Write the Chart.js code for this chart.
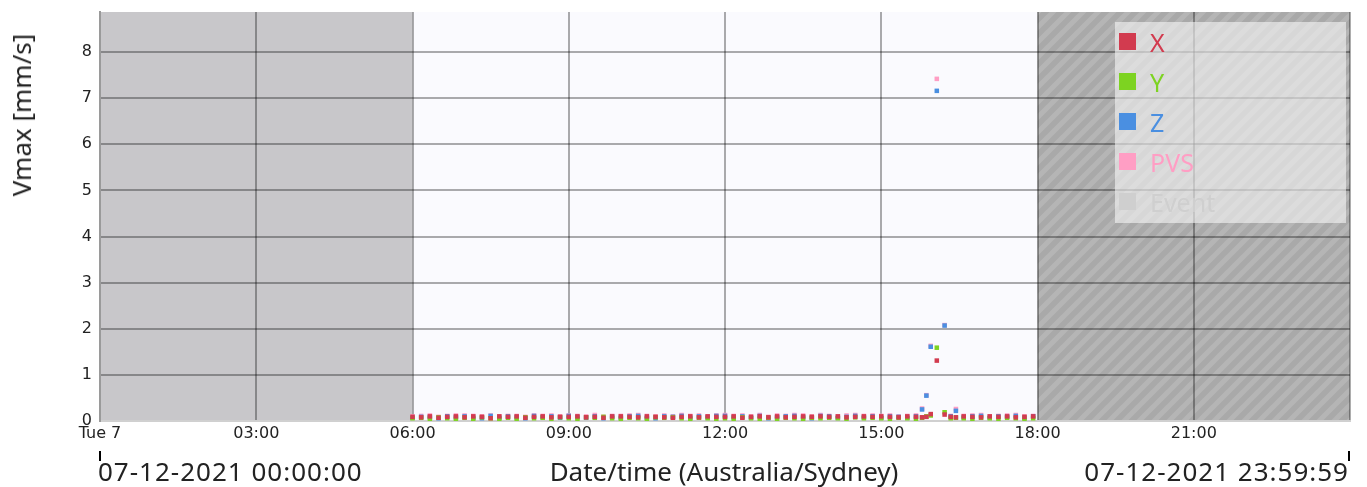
<!DOCTYPE html>
<html lang="en">
<head>
<meta charset="UTF-8">
<title>Vmax [mm/s]</title>
<script src="https://cdn.jsdelivr.net/npm/chart.js"></script>
<style>
  html, body { margin: 0; padding: 0; background: #fff; }
  #wrap { position: relative; width: 1367px; height: 487px; overflow: hidden; font-family: "Noto Sans", sans-serif; color: #222; }
  #wrap canvas { position: absolute; left: 0; top: 0; }
  .ytitle { position: absolute; left: 21px; top: 115px; transform: translate(-50%, -50%) rotate(-90deg); font-size: 26px; line-height: 1; white-space: nowrap; }
  .foot { position: absolute; top: 456px; font-size: 26px; line-height: 30px; white-space: nowrap; }
  .stamp { letter-spacing: 1px; }
  .mark { position: absolute; width: 2px; height: 10px; background: #000; top: 451px; }
  .legend { position: absolute; left: 1115px; top: 22px; width: 231px; height: 201px; background: rgba(247, 247, 247, 0.6); }
  .legend div { position: absolute; left: 35px; font-size: 25px; line-height: 30px; white-space: nowrap; }
  .legend span { position: absolute; left: -31px; top: 6px; width: 17px; height: 17px; }
</style>
</head>
<body>
<div id="wrap">
    <canvas id="vmaxChart" width="1367" height="487"></canvas>
    <div class="ytitle">Vmax [mm/s]</div>
    <div class="legend" id="legend"></div>
    <div class="mark" style="left:99px"></div>
    <div class="mark" style="left:1348px"></div>
    <div class="foot stamp" style="left:98px">07-12-2021 00:00:00</div>
    <div class="foot" style="left:724px; transform:translateX(-50%)">Date/time (Australia/Sydney)</div>
    <div class="foot stamp" style="right:18px">07-12-2021 23:59:59</div>
</div>

<script>
// sample times (local), one value per series at each time
const times = [
    '06:00','06:10','06:20','06:30','06:40','06:50',
    '07:00','07:10','07:20','07:30','07:40','07:50',
    '08:00','08:10','08:20','08:30','08:40','08:50',
    '09:00','09:10','09:20','09:30','09:40','09:50',
    '10:00','10:10','10:20','10:30','10:40','10:50',
    '11:00','11:10','11:20','11:30','11:40','11:50',
    '12:00','12:10','12:20','12:30','12:40','12:50',
    '13:00','13:10','13:20','13:30','13:40','13:50',
    '14:00','14:10','14:20','14:30','14:40','14:50',
    '15:00','15:10','15:20','15:30','15:40',
    '15:47','15:52','15:57','16:04','16:13','16:20','16:26',
    '16:35','16:45','16:55','17:05','17:15','17:25','17:35','17:45','17:55'
];

const xVals = [
    .09,.08,.10,.07,.09,.10,  .08,.10,.09,.06,.10,.09,  .10,.07,.09,.10,.08,.09,
    .09,.10,.08,.09,.07,.10,  .10,.09,.08,.10,.09,.08,  .07,.09,.10,.08,.10,.09,
    .09,.10,.07,.09,.10,.08,  .10,.08,.09,.10,.09,.10,  .09,.10,.08,.09,.10,.09,
    .10,.09,.08,.10,.09,
    .08,.09,.15,1.31,.14,.09,.08,
    .10,.09,.08,.10,.09,.10,.08,.09,.10
];
const yVals = [
    .06,.07,.05,.08,.06,.05,  .07,.05,.08,.06,.05,.07,  .05,.08,.06,.07,.05,.08,
    .06,.05,.08,.07,.09,.06,  .05,.07,.06,.05,.08,.07,  .08,.06,.05,.07,.06,.05,
    .06,.05,.08,.06,.05,.07,  .05,.07,.06,.05,.07,.06,  .07,.06,.05,.08,.06,.07,
    .06,.05,.07,.06,.05,
    .07,.10,.12,1.59,.19,.06,.07,
    .06,.05,.07,.06,.05,.07,.06,.05,.06
];
const zVals = [
    .07,.09,.08,.06,.10,.08,  .10,.07,.06,.11,.07,.10,  .08,.06,.11,.08,.10,.07,
    .11,.08,.07,.10,.06,.09,  .07,.10,.11,.07,.06,.10,  .09,.11,.07,.10,.08,.11,
    .11,.08,.10,.07,.11,.06,  .08,.10,.11,.08,.06,.11,  .10,.07,.09,.11,.08,.10,
    .07,.10,.09,.07,.10,
    .25,.55,1.61,7.16,2.07,.10,.22,
    .08,.10,.11,.07,.10,.09,.11,.07,.10
];
const pvsVals = [
    .10,.11,.12,.09,.11,.12,  .12,.11,.10,.12,.10,.11,  .11,.09,.12,.11,.12,.10,
    .12,.11,.10,.13,.09,.11,  .11,.12,.13,.11,.10,.12,  .10,.13,.11,.12,.10,.12,
    .13,.11,.12,.10,.13,.09,  .12,.11,.13,.12,.10,.13,  .11,.10,.12,.13,.11,.12,
    .11,.12,.10,.11,.12,
    .27,.56,1.63,7.42,2.08,.11,.26,
    .11,.12,.13,.10,.11,.12,.13,.10,.11
];

const seriesNames = ['X', 'Y', 'Z', 'PVS', 'Event'];
const seriesColors = ['#d23b4f', '#7dd321', '#4a8fe1', '#ff9ec4', '#cfcfcf'];

// x axis in minutes after midnight
const xTickValues = [0, 180, 360, 540, 720, 900, 1080, 1260, 1440];
const xTickLabels = ['Tue 7', '03:00', '06:00', '09:00', '12:00', '15:00', '18:00', '21:00', ''];
const yTickValues = [0, 1, 2, 3, 4, 5, 6, 7, 8];
const yMax = 8.87;

// shaded periods (minutes): before monitoring, monitored, not yet recorded
const nightRange = [0, 360];
const dayRange = [360, 1080];
const futureRange = [1080, 1440];

const toMinutes = t => {
    const [h, m] = t.split(':');
    return parseInt(h, 10) * 60 + parseInt(m, 10);
};
const points = vals => times.map((t, i) => ({ x: toMinutes(t), y: vals[i] }));

// legend
const legendEl = document.getElementById('legend');
seriesNames.forEach((name, i) => {
    const row = document.createElement('div');
    row.style.top = (5 + i * 40) + 'px';
    row.style.color = seriesColors[i];
    row.innerHTML = '<span style="background:' + seriesColors[i] + '"></span>' + name;
    legendEl.appendChild(row);
});

function hatchPattern(ctx) {
    const c = document.createElement('canvas');
    c.width = 15; c.height = 15;
    const g = c.getContext('2d');
    g.fillStyle = '#a9a9a9';
    g.fillRect(0, 0, 15, 15);
    g.strokeStyle = '#b5b5b5';
    g.lineWidth = 5;
    g.beginPath();
    g.moveTo(-5, 20); g.lineTo(20, -5);
    g.moveTo(-5, 5); g.lineTo(5, -5);
    g.moveTo(10, 20); g.lineTo(20, 10);
    g.stroke();
    return ctx.createPattern(c, 'repeat');
}

const zones = {
    id: 'zones',
    beforeDraw(chart) {
        const { ctx, chartArea: a, scales: { x } } = chart;
        const band = (r, fill) => {
            const x0 = x.getPixelForValue(r[0]);
            const x1 = x.getPixelForValue(r[1]);
            ctx.fillStyle = fill;
            ctx.fillRect(x0, a.top, x1 - x0, a.bottom - a.top);
        };
        ctx.save();
        band(nightRange, '#c8c7ca');
        band(dayRange, '#fafafe');
        band(futureRange, hatchPattern(ctx));
        ctx.restore();
    }
};

const tickFont = { family: 'DejaVu Sans', size: 16 };
const gridColor = 'rgba(0, 0, 0, 0.32)';

new Chart(document.getElementById('vmaxChart'), {
    type: 'scatter',
    data: {
        datasets: [xVals, yVals, zVals, pvsVals].map((vals, i) => ({
            label: seriesNames[i],
            data: points(vals),
            backgroundColor: seriesColors[i],
            borderColor: seriesColors[i],
            pointStyle: 'rect',
            pointRadius: 3.2,
            pointBorderWidth: 0,
            pointHoverRadius: 4
        }))
    },
    options: {
        responsive: false,
        animation: false,
        layout: { padding: { left: 0, right: 17, top: 12, bottom: 0 } },
        plugins: {
            legend: { display: false },
            tooltip: { enabled: true }
        },
        scales: {
            x: {
                type: 'linear',
                min: 0,
                max: 1440,
                afterFit: s => { s.height = 66; s.paddingLeft = 0; s.paddingRight = 0; },
                afterBuildTicks: s => { s.ticks = xTickValues.map(v => ({ value: v })); },
                grid: { color: gridColor, lineWidth: 2, drawTicks: false },
                border: { color: '#d0d0d0', width: 2 },
                ticks: {
                    font: tickFont,
                    color: '#222',
                    padding: 3,
                    maxRotation: 0,
                    autoSkip: false,
                    callback: v => xTickLabels[xTickValues.indexOf(v)] ?? ''
                }
            },
            y: {
                min: 0,
                max: yMax,
                afterFit: s => { s.width = 100; s.paddingTop = 0; s.paddingBottom = 0; },
                afterBuildTicks: s => { s.ticks = yTickValues.map(v => ({ value: v })); },
                grid: { color: gridColor, lineWidth: 2, drawTicks: false },
                border: { color: '#9a9a9a', width: 2 },
                ticks: { font: tickFont, color: '#222', padding: 8 }
            }
        }
    },
    plugins: [zones]
});
</script>
</body>
</html>
